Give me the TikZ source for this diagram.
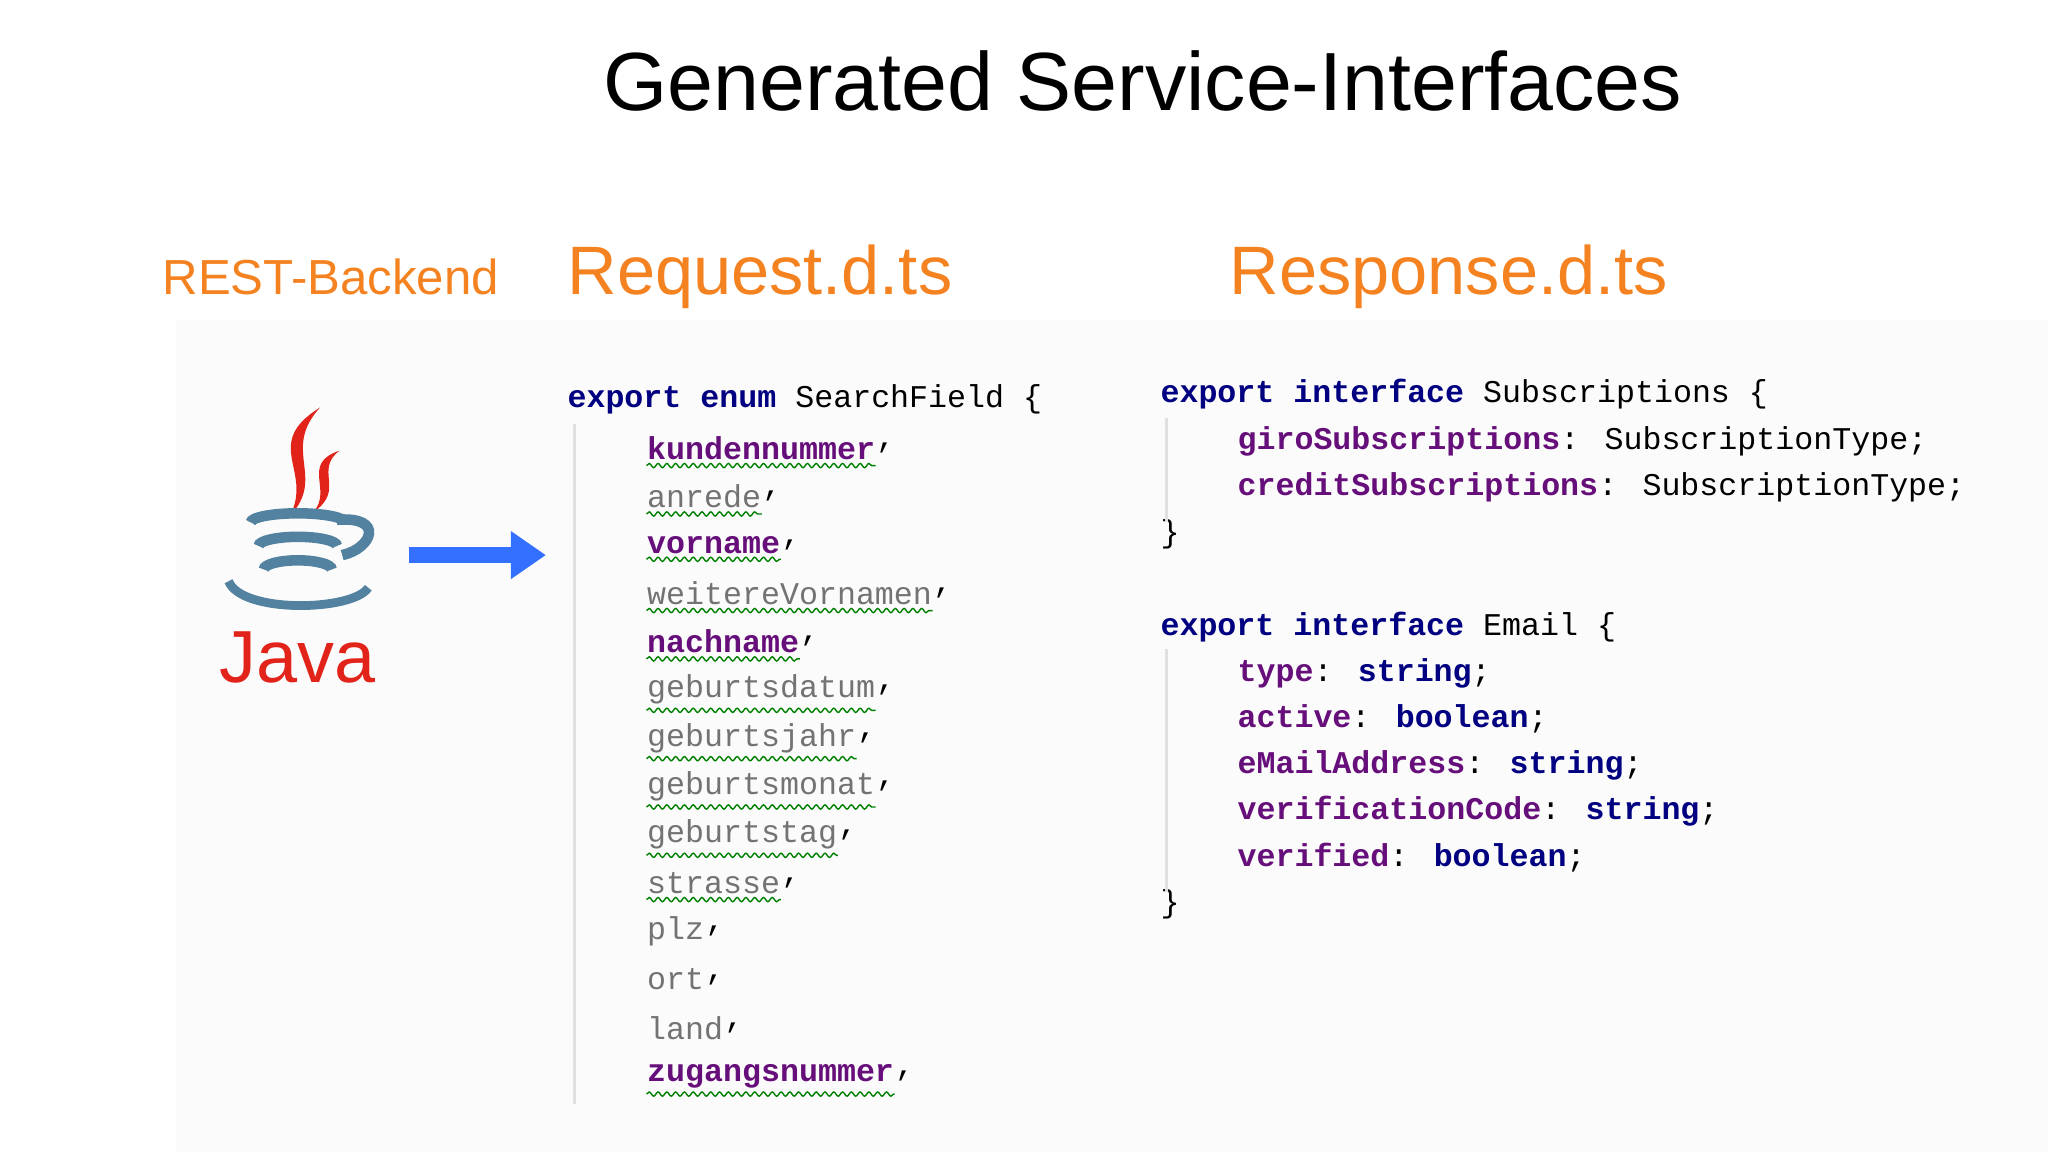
\documentclass[tikz,border=0pt]{standalone}
\usepackage{fontspec}
\setmainfont{Liberation Sans}
\newfontfamily\codefont{Liberation Mono}
\usetikzlibrary{positioning,arrows.meta,decorations.pathmorphing}

\definecolor{kwblue}{RGB}{0,0,128}
\definecolor{fieldpurple}{RGB}{102,14,122}
\definecolor{headorange}{RGB}{245,130,32}
\definecolor{javared}{RGB}{226,35,26}
\definecolor{javablue}{RGB}{83,130,161}

\tikzset{
  heading/.style={anchor=west, text=headorange, font=\fontsize{19.5}{21}\selectfont},
  code/.style={anchor=west, inner sep=0pt, font=\codefont\fontsize{9}{10}\selectfont},
  field/.style={code, text=fieldpurple, font=\codefont\bfseries\fontsize{9}{10}\selectfont},
  greyfield/.style={code, text=black!55},
  squiggle/.style={draw=green!50!black, line width=0.4pt,
    decorate, decoration={snake, amplitude=0.6pt, segment length=2.5pt}},
  guide/.style={draw=black!12, line width=0.8pt}
}

\begin{document}
\begin{tikzpicture}[x=0.0130612cm, y=-0.0130612cm]
\useasboundingbox (0,0) rectangle (1568,882);
\fill[black!1.5] (135,245) rectangle (1568,882);

% titles
\node[font=\fontsize{23.5}{25}\selectfont] (title) at (875,62) {Generated Service-Interfaces};
\node[heading, font=\fontsize{14}{16}\selectfont] (backend) at (115,212) {REST-Backend};
\node[heading] (request) at (425,212) {Request.d.ts};
\node[heading] (response) at (932,212) {Response.d.ts};

% java logo
\fill[javared] (245,312) .. controls (200,340) and (240,360) .. (222,395)
  .. controls (250,365) and (215,345) .. (245,312);
\fill[javared] (260,345) .. controls (230,355) and (255,375) .. (240,392)
  .. controls (265,375) and (240,360) .. (260,345);
\foreach \yy/\ww in {400/36,418/30,436/26} {
  \draw[javablue, line width=3pt] (228-\ww,\yy) arc[start angle=180, end angle=360, x radius=\ww, y radius=7];
}
\draw[javablue, line width=3pt] (258,398) .. controls (295,395) and (285,420) .. (262,425);
\draw[javablue, line width=2.5pt] (175,445) .. controls (185,470) and (270,468) .. (282,450);
\node[text=javared, font=\fontsize{21}{22}\selectfont] (java) at (228,503) {Java};
\coordinate (javaend) at (313,425);
\coordinate (reqstart) at (418,425);
\draw[-{Triangle[length=10pt,width=13pt]}, line width=4.5pt, draw=blue!70!cyan!80]
  (javaend) -- (reqstart);

% request
\node[code] (enum) at (434,306) {\textcolor{kwblue}{\bfseries export enum} SearchField \{};
\draw[guide] (440,325) -- (440,845);
\foreach \name/\sty/\wav [count=\i] in {
  kundennummer/field/1, anrede/greyfield/1, vorname/field/1,
  weitereVornamen/greyfield/1, nachname/field/1, geburtsdatum/greyfield/1,
  geburtsjahr/greyfield/1, geburtsmonat/greyfield/1, geburtstag/greyfield/1,
  strasse/greyfield/1, plz/greyfield/0, ort/greyfield/0, land/greyfield/0,
  zugangsnummer/field/1} {
  \node[\sty] (f\i) at (495,306+37*\i) {\name};
  \node[code, right=0pt of f\i] (c\i) {,};
  \ifnum\wav=1
    \draw[squiggle] ([yshift=-1.5pt]f\i.south west) -- ([yshift=-1.5pt]f\i.south east);
  \fi
}

% response
\node[code] (subs) at (888,302) {\textcolor{kwblue}{\bfseries export interface} Subscriptions \{};
\node[code] (giro) at (947,338) {\textcolor{fieldpurple}{\bfseries giroSubscriptions}: SubscriptionType;};
\node[code] (credit) at (947,373) {\textcolor{fieldpurple}{\bfseries creditSubscriptions}: SubscriptionType;};
\node[code] (subsend) at (888,409) {\}};
\draw[guide] (893,320) -- (893,400);

\node[code] (email) at (888,480) {\textcolor{kwblue}{\bfseries export interface} Email \{};
\foreach \name/\typ [count=\i] in {type/string, active/boolean, eMailAddress/string,
  verificationCode/string, verified/boolean} {
  \node[code] (e\i) at (947,480+35.3*\i)
    {\textcolor{fieldpurple}{\bfseries\name}: \textcolor{kwblue}{\bfseries\typ};};
}
\node[code] (emailend) at (888,692) {\}};
\draw[guide] (893,497) -- (893,683);
\end{tikzpicture}
\end{document}
